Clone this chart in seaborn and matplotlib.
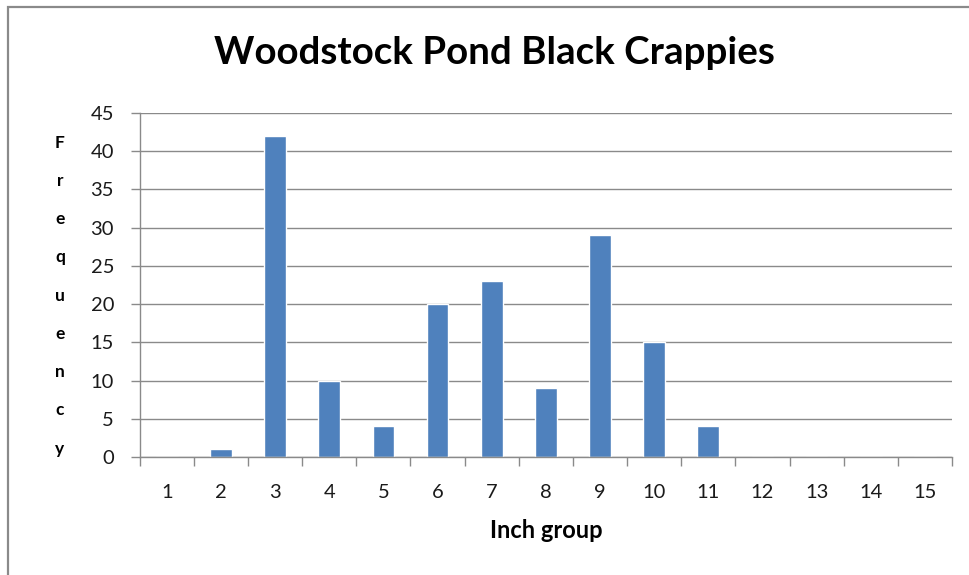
import matplotlib
matplotlib.use("Agg")
import matplotlib.pyplot as plt
import matplotlib.transforms as mtransforms
from matplotlib.patches import Rectangle
import seaborn as sns
import pandas as pd

# ---- data ----
inch_groups = [str(g) for g in range(1, 16)]
frequency = [0, 1, 42, 10, 4, 20, 23, 9, 29, 15, 4, 0, 0, 0, 0]
y_ticks = [0, 5, 10, 15, 20, 25, 30, 35, 40, 45]
title = "Woodstock Pond Black Crappies"
x_title = "Inch group"
y_title_letters = list("Frequency")

sns.set_theme(style="white")
plt.rcParams['font.family'] = ['Lato', 'DejaVu Sans']

GRAY = "#8a8a8a"
BLUE = "#4F81BD"
TXT = "#1a1a1a"

fig = plt.figure(figsize=(9.69, 5.75), dpi=100)
ax = fig.add_axes([139.7 / 969, 1 - 457 / 575, (952 - 139.7) / 969, (457 - 113) / 575])

df = pd.DataFrame({"group": inch_groups, "freq": frequency})
sns.barplot(data=df, x="group", y="freq", color=BLUE, saturation=1, width=0.4,
            ax=ax, errorbar=None)

ax.set_xlim(-0.5, len(inch_groups) - 0.5)
ax.set_ylim(0, 45)
ax.set_yticks(y_ticks)
ax.yaxis.grid(True, color=GRAY, linewidth=1.0)
ax.xaxis.grid(False)
ax.set_axisbelow(True)

for s in ["top", "right"]:
    ax.spines[s].set_visible(False)
for s in ["left", "bottom"]:
    ax.spines[s].set_color(GRAY)
    ax.spines[s].set_linewidth(1.0)

# x: tick marks at category boundaries, category labels drawn as text below
ax.set_xticks(range(len(inch_groups)))
ax.set_xticklabels([])
ax.set_xticks([i - 0.5 for i in range(len(inch_groups) + 1)], minor=True)
ax.tick_params(axis="x", which="major", length=0, bottom=False)
ax.tick_params(axis="x", which="minor", length=6.5, width=1.0, color=GRAY,
               direction="out", bottom=True)
ax.tick_params(axis="y", which="major", length=6.5, width=1.0, color=GRAY,
               direction="out", left=True, pad=12, labelsize=14.5, labelcolor=TXT)

lab_trans = mtransforms.blended_transform_factory(ax.transData, ax.transAxes) + \
    mtransforms.ScaledTranslation(0, -0.35, fig.dpi_scale_trans)
for i, lab in enumerate(inch_groups):
    ax.text(i, 0, lab, transform=lab_trans, ha="center", va="center",
            fontsize=14.5, color=TXT)

ax.set_xlabel("")
ax.set_ylabel("")
fig.text(546 / 969, 1 - 531 / 575, x_title, ha="center", va="center",
         fontsize=17, fontweight="bold", color="black")

# stacked y-title letters, one beside each tick
trans = mtransforms.blended_transform_factory(fig.transFigure, ax.transData)
for letter, tv in zip(y_title_letters, sorted(y_ticks[:-1], reverse=True)):
    ax.text(60 / 969, tv + 0.45, letter, transform=trans, ha="center", va="baseline",
            fontsize=12.5, fontweight="bold", color="black")

fig.text(494 / 969, 1 - 64 / 575, title, ha="center", va="baseline",
         fontsize=27.7, fontweight="bold", color="black")

# outer chart border (only left and top are visible in the reference)
fig.patches.append(Rectangle((8 / 969, -0.2), 1.2, 1.2 - 7 / 575, transform=fig.transFigure,
                             fill=False, edgecolor=GRAY, linewidth=1.6))

fig.savefig("out.png", dpi=100)
